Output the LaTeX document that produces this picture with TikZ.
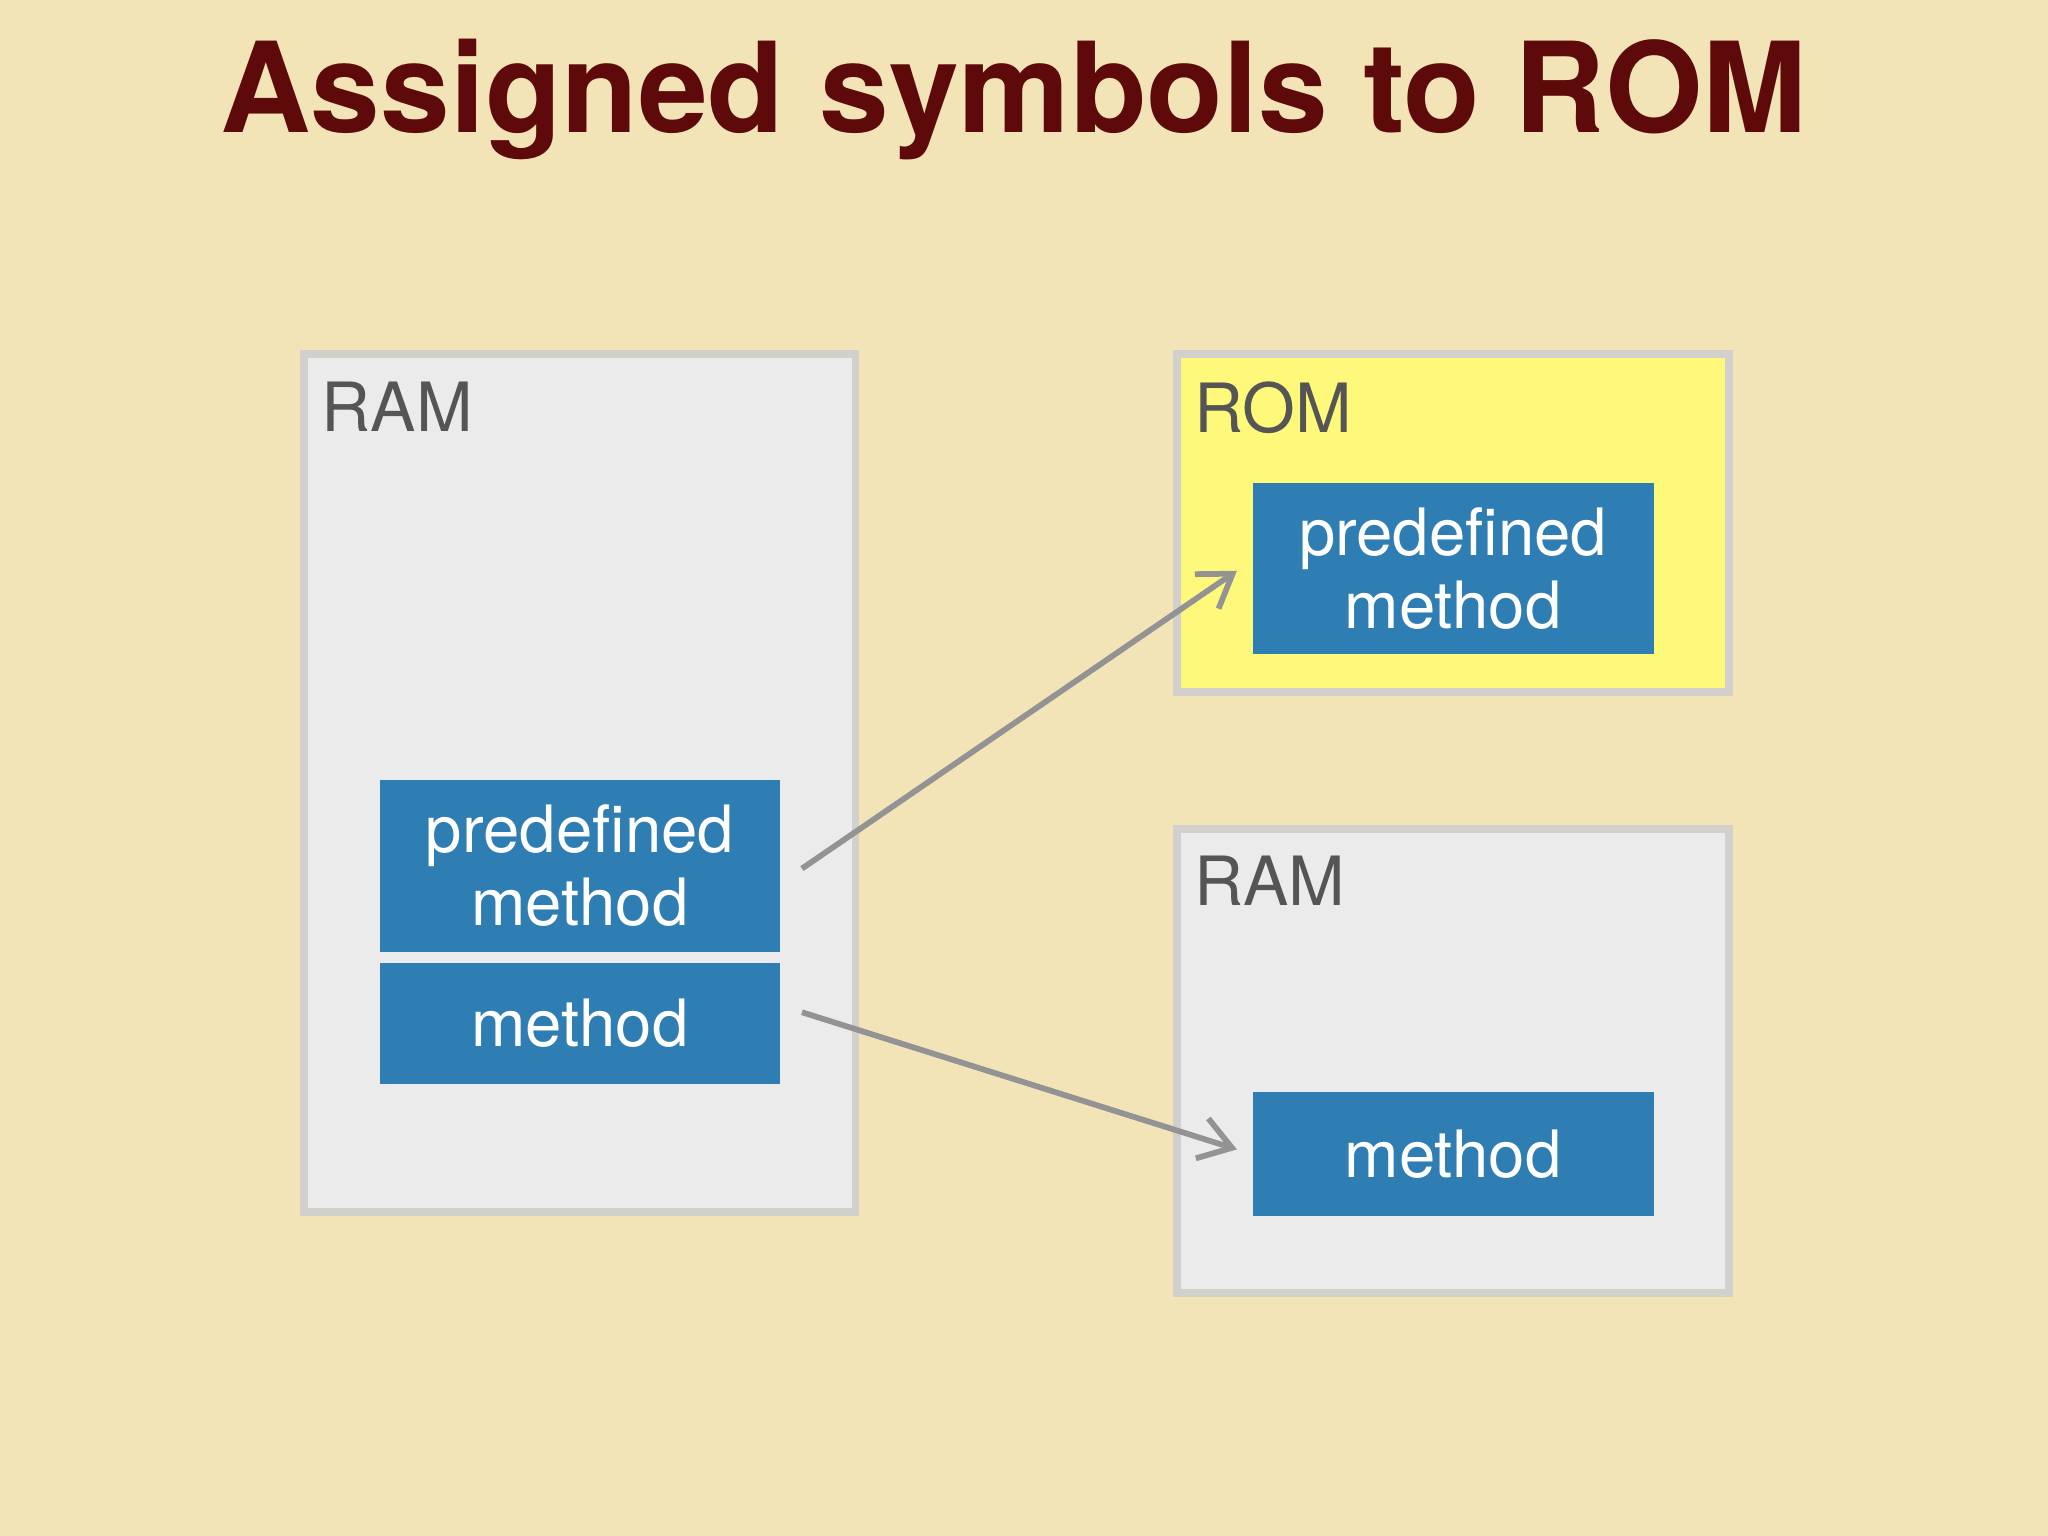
\documentclass[tikz,border=0pt]{standalone}
\usepackage{fontspec}
\setmainfont{TeX Gyre Heros}
\usetikzlibrary{arrows.meta}
\definecolor{bg}{HTML}{F2E4B7}
\definecolor{ttl}{HTML}{5E0A0A}
\definecolor{blu}{HTML}{2E7DB3}
\definecolor{memg}{HTML}{EBEBEC}
\definecolor{romy}{HTML}{FEF97A}
\definecolor{brd}{HTML}{D2D0CC}
\definecolor{lbl}{HTML}{555555}
\begin{document}
\begin{tikzpicture}[x=0.5pt,y=-0.5pt,
  mem/.style={draw=brd,line width=3pt},
  blk/.style={fill=blu,draw=none,text=white,font=\fontsize{25}{30}\selectfont,align=center},
  memlbl/.style={anchor=north west,text=lbl,font=\fontsize{26}{30}\selectfont,inner sep=0pt},
  arr/.style={draw=gray!85,line width=2.2pt,-{Straight Barb[length=12pt,width=16pt,line width=2.2pt]}}]
\fill[bg] (0,0) rectangle (1568,1176);
\node[text=ttl,font=\fontsize{48}{56}\selectfont\bfseries] (title) at (776,76) {Assigned symbols to ROM};
\draw[mem,fill=memg] (233,271) rectangle (655,928);
\node[memlbl] (l1) at (246,292) {RAM};
\draw[mem,fill=romy] (901,271) rectangle (1324,530);
\node[memlbl] (l2) at (914,292) {ROM};
\draw[mem,fill=memg] (901,635) rectangle (1324,990);
\node[memlbl] (l3) at (914,655) {RAM};
\node[blk,minimum width=153pt,minimum height=66pt] (pm1) at (444,663) {predefined\\[-2pt]method};
\node[blk,minimum width=153pt,minimum height=46.5pt] (m1) at (444,783.5) {method};
\node[blk,minimum width=153.5pt,minimum height=65.5pt] (pm2) at (1112.5,435.5) {predefined\\[-2pt]method};
\node[blk,minimum width=153.5pt,minimum height=47.5pt] (m2) at (1112.5,883.5) {method};
\coordinate (a1) at (614,665);
\coordinate (b1) at (947,437);
\coordinate (a2) at (614,775);
\coordinate (b2) at (947,880);
\draw[arr] (a1) -- (b1);
\draw[arr] (a2) -- (b2);
\end{tikzpicture}
\end{document}
